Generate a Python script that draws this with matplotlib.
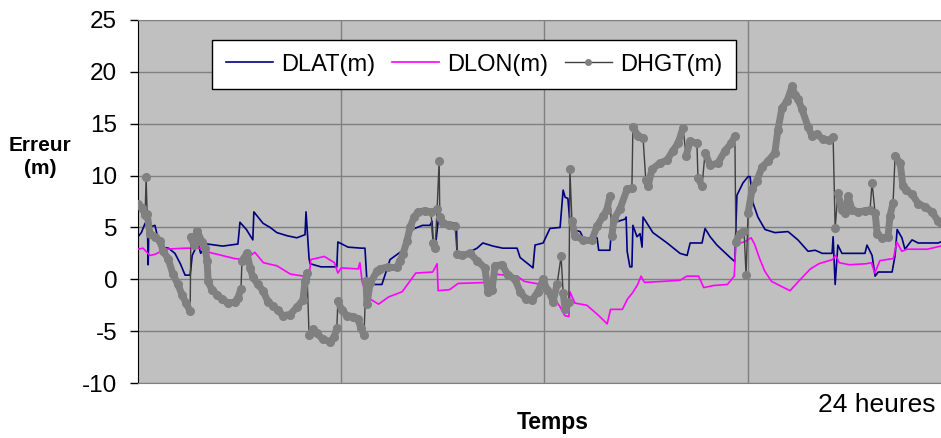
import numpy as np
import matplotlib
matplotlib.use("Agg")
import matplotlib.pyplot as plt
from matplotlib.collections import LineCollection
from matplotlib.lines import Line2D

plt.rcParams['font.family'] = ['Liberation Sans', 'DejaVu Sans']
plt.rcParams['axes.unicode_minus'] = False

# time in hours, errors in metres
dlat_t = [0.00, 0.10, 0.21, 0.28, 0.30, 0.32, 0.50, 0.65, 0.90, 1.09, 1.25, 1.39, 1.54, 1.60,
          1.77, 1.85, 2.05, 2.50, 2.95, 3.01, 3.20, 3.39, 3.42, 3.69, 3.90, 4.10, 4.40, 4.69,
          4.93, 4.96, 5.05, 5.08, 5.40, 5.87, 5.90, 6.20, 6.60, 6.70, 6.76, 7.00, 7.20, 7.44,
          7.82, 8.09, 8.40, 8.62, 8.68, 8.71, 8.80, 8.86, 9.40, 9.42, 9.59, 10.01, 10.18, 10.48,
          10.77, 11.19, 11.28, 11.66, 11.72, 11.96, 12.16, 12.46, 12.55, 12.61, 12.69, 12.75,
          12.81, 13.05, 13.14, 13.55, 13.60, 13.93, 13.99, 14.38, 14.41, 14.44, 14.52, 14.58,
          14.61, 14.73, 14.82, 14.88, 14.91, 15.20, 15.62, 16.00, 16.21, 16.30, 16.65, 16.74,
          16.89, 17.09, 17.48, 17.62, 17.68, 17.86, 18.01, 18.07, 18.15, 18.30, 18.51, 18.80,
          19.19, 19.48, 19.78, 19.99, 20.20, 20.49, 20.52, 20.58, 20.66, 20.78, 21.46, 21.52,
          21.67, 21.76, 21.85, 22.26, 22.35, 22.41, 22.55, 22.64, 22.85, 23.03, 23.62, 23.70]
dlat_v = [4.1, 4.5, 5.4, 5.0, 1.4, 5.0, 5.2, 3.1, 3.0, 2.5, 1.5, 0.4, 0.4, 2.3,
          3.5, 2.5, 3.4, 3.2, 3.4, 5.5, 4.8, 3.8, 6.5, 5.4, 5.0, 4.5, 4.2, 4.0,
          4.3, 6.5, 2.0, 1.5, 1.2, 1.2, 3.6, 3.1, 3.0, 3.0, -0.3, -0.5, -0.5, 1.9,
          2.8, 4.8, 5.2, 5.2, 5.6, 3.6, 3.8, 5.6, 5.4, 2.3, 2.3, 3.0, 3.5, 3.2,
          3.0, 3.0, 2.1, 1.1, 3.3, 3.5, 4.9, 5.0, 8.6, 7.9, 7.8, 5.5,
          4.8, 4.6, 4.0, 4.0, 2.8, 2.8, 5.4, 5.8, 6.0, 2.7, 1.2, 1.2,
          5.2, 4.1, 4.4, 3.1, 6.0, 4.5, 3.5, 2.5, 2.3, 3.5, 3.5, 4.9,
          4.1, 3.3, 2.1, 1.7, 8.1, 9.3, 9.9, 9.9, 7.4, 6.0, 4.8, 4.5,
          4.6, 3.8, 2.7, 2.8, 2.5, 2.5, 4.1, -0.5, 3.3, 2.5, 2.5, 3.3,
          2.3, 0.3, 0.7, 0.7, 2.3, 4.8, 4.0, 2.9, 3.8, 3.5, 3.5, 3.6]

dlon_t = [0.00, 0.15, 0.35, 0.50, 0.80, 1.40, 2.00, 2.10, 2.85, 3.15, 3.45, 3.70, 4.10, 4.50,
          4.90, 5.05, 5.10, 5.50, 5.80, 5.90, 6.00, 6.50, 6.55, 6.62, 6.80, 7.10, 7.40, 7.80,
          8.00, 8.20, 8.70, 8.83, 8.86, 9.20, 9.45, 10.40, 10.50, 11.20, 11.40, 11.90, 12.10,
          12.45, 12.60, 12.72, 12.75, 12.90, 13.25, 13.60, 13.85, 13.95, 14.30, 14.45, 14.60,
          14.75, 14.85, 14.95, 15.50, 16.00, 16.20, 16.55, 16.70, 17.00, 17.40, 17.60, 17.65,
          17.90, 18.10, 18.20, 18.35, 18.50, 18.70, 19.00, 19.25, 19.50, 19.85, 20.10, 20.50,
          20.60, 20.70, 21.00, 21.50, 21.65, 21.75, 21.90, 22.30, 22.40, 22.55, 22.70, 23.30,
          23.70]
dlon_v = [2.9, 3.0, 2.3, 2.4, 2.9, 3.0, 3.0, 2.6, 2.0, 1.9, 2.6, 1.6, 1.3, 0.5,
          0.3, 0.0, 1.9, 2.2, 1.6, 0.6, 1.1, 1.0, 1.6, -0.3, -1.8, -2.4, -1.7, -1.2,
          -0.3, 0.6, 0.7, 1.5, -1.1, -1.0, -0.4, -0.3, 0.5, 0.3, -0.2, -0.5, -1.0,
          -2.6, -3.5, -3.6, -1.2, -2.3, -2.5, -3.5, -4.3, -2.9, -2.9, -1.9, -1.3,
          -0.5, 0.3, -0.3, -0.2, -0.1, 0.3, 0.3, -0.8, -0.6, -0.5, 0.3, 3.4,
          3.6, 4.0, 3.4, 2.0, 0.8, -0.2, -0.7, -1.1, -0.2, 1.0, 1.5, 1.9,
          2.3, 1.6, 1.4, 1.5, 1.6, 0.6, 1.8, 2.0, 3.6, 2.7, 2.9, 2.9,
          3.2]

dhgt_t = [0.00, 0.12, 0.21, 0.24, 0.27, 0.35, 0.50, 0.65, 0.74, 0.89, 1.03, 1.18, 1.30, 1.42,
          1.54, 1.56, 1.65, 1.74, 1.89, 1.98, 2.04, 2.07, 2.18, 2.33, 2.48, 2.66, 2.86, 2.95,
          3.04, 3.07, 3.22, 3.31, 3.39, 3.54, 3.69, 3.84, 3.99, 4.13, 4.28, 4.49, 4.69, 4.87,
          4.93, 4.99, 5.05, 5.17, 5.28, 5.46, 5.67, 5.79, 5.87, 5.90, 6.02, 6.17, 6.35, 6.49,
          6.58, 6.67, 6.73, 6.76, 6.85, 7.06, 7.14, 7.38, 7.65, 7.73, 7.82, 7.94, 8.03, 8.15,
          8.27, 8.47, 8.65, 8.71, 8.77, 8.83, 8.89, 8.91, 9.00, 9.18, 9.36, 9.42, 9.56, 9.80,
          10.01, 10.24, 10.33, 10.45, 10.54, 10.75, 10.92, 11.13, 11.28, 11.45, 11.63, 11.81,
          11.96, 12.07, 12.19, 12.25, 12.37, 12.49, 12.55, 12.61, 12.72, 12.75, 12.81, 12.90,
          13.14, 13.40, 13.55, 13.73, 13.84, 13.93, 13.99, 14.05, 14.23, 14.44, 14.58, 14.61,
          14.76, 14.91, 14.99, 15.06, 15.17, 15.41, 15.62, 15.79, 15.94, 16.09, 16.18, 16.30,
          16.50, 16.53, 16.65, 16.74, 16.89, 17.12, 17.33, 17.51, 17.62, 17.65, 17.77, 17.89,
          17.95, 18.01, 18.13, 18.27, 18.42, 18.60, 18.80, 18.89, 19.01, 19.16, 19.31, 19.39,
          19.48, 19.60, 19.78, 19.90, 20.04, 20.22, 20.40, 20.52, 20.58, 20.66, 20.78, 20.87,
          20.96, 21.08, 21.26, 21.46, 21.61, 21.67, 21.76, 21.82, 21.96, 22.14, 22.20, 22.29,
          22.35, 22.50, 22.58, 22.67, 22.85, 23.03, 23.23, 23.44, 23.62, 23.70]
dhgt_v = [7.3, 6.9, 6.2, 9.9, 6.3, 4.4, 4.1, 3.7, 2.7, 2.0, 0.5, -0.5, -1.5, -2.3,
          -3.1, 4.1, 3.3, 4.7, 3.6, 3.0, 1.8, -0.2, -1.0, -1.5, -1.9, -2.3, -2.2, -1.8,
          -0.9, 1.8, 2.5, 1.1, 0.2, -0.5, -1.1, -2.2, -2.6, -3.0, -3.5, -3.4, -2.7, -2.0,
          -0.2, 0.6, -5.4, -4.8, -5.2, -5.8, -6.0, -5.6, -4.7, -2.1, -3.0, -3.5, -3.6, -3.8,
          -4.7, -5.4, -0.2, -2.4, -0.4, 0.8, 1.0, 1.2, 1.2, 1.8, 2.4, 3.7, 5.0, 6.0,
          6.5, 6.6, 6.5, 3.5, 3.0, 6.8, 11.4, 6.0, 5.4, 5.2, 5.1, 2.4, 2.3, 2.5,
          1.8, 1.1, -1.2, -1.0, 1.3, 1.4, 0.4, 0.0, -1.2, -1.9, -2.0, -1.2,
          0.0, -1.0, -1.5, -2.2, -0.5, 2.2, -1.3, -2.9, -2.2, 10.6, 5.6, 4.2,
          3.8, 3.8, 5.1, 6.1, 6.7, 8.0, 4.2, 5.8, 6.8, 8.7, 8.8, 14.7,
          13.8, 13.6, 9.6, 9.0, 10.6, 11.2, 11.5, 12.4, 13.1, 14.6, 11.9, 13.3,
          13.1, 9.8, 9.0, 12.2, 11.0, 11.2, 12.4, 13.1, 13.8, 3.6, 4.4, 4.7,
          0.4, 6.4, 8.7, 9.5, 10.8, 11.4, 12.2, 14.4, 16.5, 17.2, 18.6, 17.8,
          17.4, 16.4, 14.7, 13.8, 14.0, 13.5, 13.4, 13.7, 4.9, 8.3, 6.7, 6.4,
          8.0, 6.7, 6.5, 6.6, 6.7, 9.3, 6.4, 4.4, 4.0, 4.1, 6.1, 7.4,
          11.9, 11.2, 9.0, 8.6, 8.2, 7.3, 7.0, 6.5, 5.6, 5.4]

y_ticks = [-10, -5, 0, 5, 10, 15, 20, 25]
series_names = ['DLAT(m)', 'DLON(m)', 'DHGT(m)']

fig = plt.figure(figsize=(9.41, 4.38), dpi=100)
# plot area runs past the right edge of the picture, like the original
ax = fig.add_axes([138 / 941, 55 / 438, 813 / 941, 363 / 438])
ax.set_facecolor('#c0c0c0')
ax.set_xlim(0, 24)
ax.set_ylim(-10, 25)
ax.set_xticks([6, 12, 18])
ax.set_yticks(y_ticks)
ax.grid(True, color='#808080', linewidth=1)
ax.set_axisbelow(True)
ax.tick_params(axis='x', length=0, labelbottom=False)
ax.tick_params(axis='y', direction='out', length=6, width=1, labelsize=17.5, pad=9)
ax.spines['left'].set_color('black')
ax.spines['right'].set_visible(False)
ax.spines['top'].set_color('#808080')
ax.spines['bottom'].set_color('#808080')

ax.plot(dlat_t, dlat_v, color='#000080', linewidth=1.2, zorder=2)
ax.plot(dlon_t, dlon_v, color='#ff00ff', linewidth=1.2, zorder=3)

# DHGT: thin dark line, with the dense grey markers shown as a thick band
ax.plot(dhgt_t, dhgt_v, color='#404040', linewidth=1, zorder=4)
pts = np.column_stack([dhgt_t, dhgt_v])
segs = np.stack([pts[:-1], pts[1:]], axis=1)
small = np.abs(np.diff(dhgt_v)) <= 2.5
lc = LineCollection(segs[small], colors='#808080', linewidths=5,
                    capstyle='round', joinstyle='round', zorder=5)
ax.add_collection(lc)
ax.plot(dhgt_t, dhgt_v, 'o', color='#808080', markersize=5.5, zorder=5)

handles = [Line2D([], [], color='#000080', linewidth=1.2),
           Line2D([], [], color='#ff00ff', linewidth=1.2),
           Line2D([], [], color='#404040', linewidth=1, marker='o', markersize=4,
                  markerfacecolor='#808080', markeredgecolor='#808080')]
leg = fig.legend(handles, series_names, loc='upper left', ncol=3,
                 bbox_to_anchor=(212 / 941, 1 - 40 / 438), bbox_transform=fig.transFigure,
                 borderaxespad=0, fontsize=17, frameon=True, fancybox=False,
                 edgecolor='black', framealpha=1, handlelength=2.0, handletextpad=0.35,
                 columnspacing=0.7, borderpad=0.58)
leg.get_frame().set_linewidth(1)

fig.text(40 / 941, 1 - 157 / 438, 'Erreur\n(m)', ha='center', va='center',
         fontsize=15, fontweight='bold', linespacing=1.25)
fig.text(553 / 941, 1 - 423 / 438, 'Temps', ha='center', va='center',
         fontsize=16.5, fontweight='bold')
fig.text(935 / 941, 1 - 405 / 438, '24 heures', ha='right', va='center', fontsize=19)

fig.savefig('out.png', dpi=100)
